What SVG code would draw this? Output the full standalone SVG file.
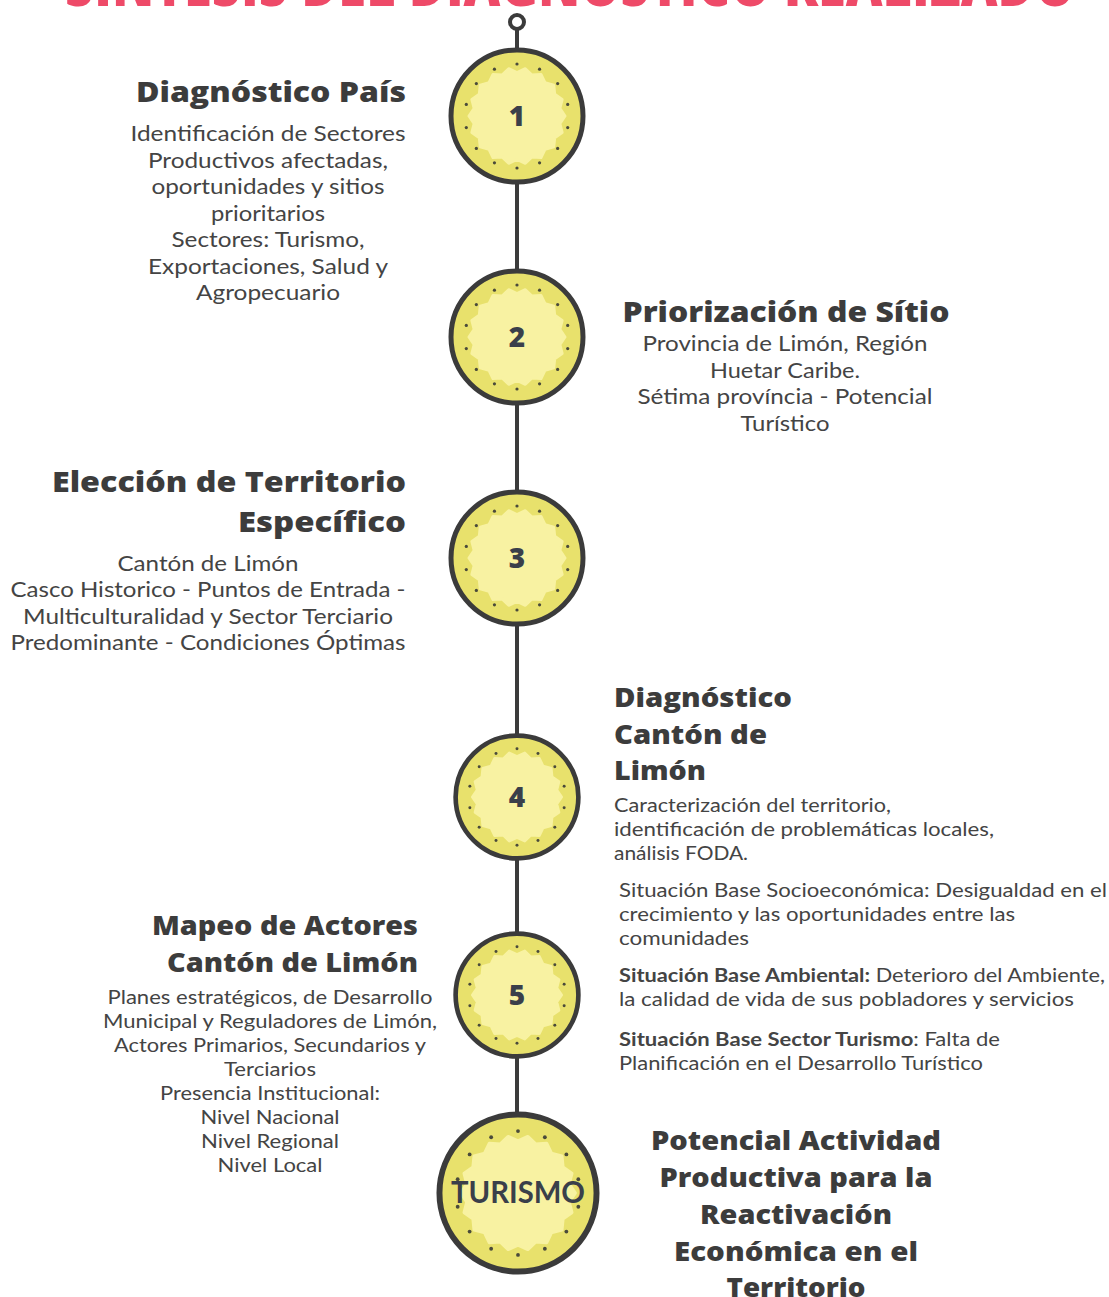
<svg xmlns="http://www.w3.org/2000/svg" xmlns:xlink="http://www.w3.org/1999/xlink" width="1109" height="1297" viewBox="0 0 1109 1297">
<style>
.title{font-family:"Open Sans","Liberation Sans",sans-serif;font-weight:800;font-size:64px;fill:#EE4A68}
.h{font-family:"Open Sans","Lato","Liberation Sans",sans-serif;font-weight:800;font-size:29px;fill:#3c3c3c}
.h2{font-family:"Open Sans","Lato","Liberation Sans",sans-serif;font-weight:800;font-size:27px;fill:#3c3c3c}
.b{font-family:"Lato","Liberation Sans",sans-serif;font-size:21px;fill:#444}
.s{font-family:"Lato","Liberation Sans",sans-serif;font-size:19.5px;fill:#444}
.sb{font-weight:700}
.num{font-family:"Open Sans","Lato","Liberation Sans",sans-serif;font-weight:800;font-size:28px;fill:#3a3f4a}
.tur{font-family:"Lato","Liberation Sans",sans-serif;font-weight:700;font-size:31px;fill:#3a3f4a}
.line{stroke:#3b3b3b;stroke-width:4;fill:none}
</style>
<defs>
<g id="badge">
<circle r="66" fill="#E8E16C" stroke="#3b3b3b" stroke-width="5"/>
<polygon fill="#F8F2A2" stroke="#F8F2A2" stroke-width="3" stroke-linejoin="round" points="48,0 42.84,7.55 45.11,16.42 37.67,21.75 36.77,30.85 27.96,33.32 24,41.57 14.88,40.88 8.33,47.27 0,43.5 -8.33,47.27 -14.88,40.88 -24,41.57 -27.96,33.32 -36.77,30.85 -37.67,21.75 -45.11,16.42 -42.84,7.55 -48,0 -42.84,-7.55 -45.11,-16.42 -37.67,-21.75 -36.77,-30.85 -27.96,-33.32 -24,-41.57 -14.88,-40.88 -8.33,-47.27 0,-43.5 8.33,-47.27 14.88,-40.88 24,-41.57 27.96,-33.32 36.77,-30.85 37.67,-21.75 45.11,-16.42 42.84,-7.55"/>
<g fill="#4a4a3a">
<circle cx="0" cy="-52" r="1.6"/><circle cx="22.56" cy="-46.85" r="1.6"/><circle cx="40.65" cy="-32.42" r="1.6"/><circle cx="50.7" cy="-11.57" r="1.6"/><circle cx="50.7" cy="11.57" r="1.6"/><circle cx="40.65" cy="32.42" r="1.6"/><circle cx="22.56" cy="46.85" r="1.6"/><circle cx="0" cy="52" r="1.6"/><circle cx="-22.56" cy="46.85" r="1.6"/><circle cx="-40.65" cy="32.42" r="1.6"/><circle cx="-50.7" cy="11.57" r="1.6"/><circle cx="-50.7" cy="-11.57" r="1.6"/><circle cx="-40.65" cy="-32.42" r="1.6"/><circle cx="-22.56" cy="-46.85" r="1.6"/>
</g>
</g>
</defs>
<rect width="1109" height="1297" fill="#ffffff"/>
<text class="title" x="570" y="6" text-anchor="middle" textLength="1010" lengthAdjust="spacingAndGlyphs">SÍNTESIS DEL DIAGNÓSTICO REALIZADO</text>

<g id="connectors">
<circle class="line" cx="517" cy="22" r="7" stroke-width="3.5"/>
<line class="line" x1="517" y1="29" x2="517" y2="48"/>
<line class="line" x1="517" y1="184" x2="517" y2="270"/>
<line class="line" x1="517" y1="404" x2="517" y2="491"/>
<line class="line" x1="517" y1="625" x2="517" y2="735"/>
<line class="line" x1="517" y1="859" x2="517" y2="933"/>
<line class="line" x1="517" y1="1057" x2="517" y2="1113"/>
</g>

<g id="node1">
<use xlink:href="#badge" transform="translate(517,116)"/>
<text class="num" x="517" y="126" text-anchor="middle">1</text>
<text class="h" x="406" y="102" text-anchor="end" textLength="270" lengthAdjust="spacingAndGlyphs">Diagnóstico País</text>
<g class="b" text-anchor="middle">
<text x="268" y="141" textLength="275" lengthAdjust="spacingAndGlyphs">Identificación de Sectores</text>
<text x="268" y="168" textLength="240" lengthAdjust="spacingAndGlyphs">Productivos afectadas,</text>
<text x="268" y="194" textLength="233" lengthAdjust="spacingAndGlyphs">oportunidades y sitios</text>
<text x="268" y="221" textLength="114" lengthAdjust="spacingAndGlyphs">prioritarios</text>
<text x="268" y="247" textLength="193" lengthAdjust="spacingAndGlyphs">Sectores: Turismo,</text>
<text x="268" y="274" textLength="240" lengthAdjust="spacingAndGlyphs">Exportaciones, Salud y</text>
<text x="268" y="300" textLength="144" lengthAdjust="spacingAndGlyphs">Agropecuario</text>
</g>
</g>

<g id="node2">
<use xlink:href="#badge" transform="translate(517,337)"/>
<text class="num" x="517" y="347" text-anchor="middle">2</text>
<text class="h" x="786" y="322" text-anchor="middle" textLength="327" lengthAdjust="spacingAndGlyphs">Priorización de Sítio</text>
<g class="b" text-anchor="middle">
<text x="785" y="351" textLength="285" lengthAdjust="spacingAndGlyphs">Provincia de Limón, Región</text>
<text x="785" y="378" textLength="150" lengthAdjust="spacingAndGlyphs">Huetar Caribe.</text>
<text x="785" y="404" textLength="295" lengthAdjust="spacingAndGlyphs">Sétima província - Potencial</text>
<text x="785" y="431" textLength="89" lengthAdjust="spacingAndGlyphs">Turístico</text>
</g>
</g>

<g id="node3">
<use xlink:href="#badge" transform="translate(517,558)"/>
<text class="num" x="517" y="568" text-anchor="middle">3</text>
<text class="h" x="406" y="492" text-anchor="end" textLength="354" lengthAdjust="spacingAndGlyphs">Elección de Territorio</text>
<text class="h" x="406" y="532" text-anchor="end" textLength="168" lengthAdjust="spacingAndGlyphs">Específico</text>
<g class="b" text-anchor="middle">
<text x="208" y="571" textLength="181" lengthAdjust="spacingAndGlyphs">Cantón de Limón</text>
<text x="208" y="597" textLength="395" lengthAdjust="spacingAndGlyphs">Casco Historico - Puntos de Entrada -</text>
<text x="208" y="624" textLength="370" lengthAdjust="spacingAndGlyphs">Multiculturalidad y Sector Terciario</text>
<text x="208" y="650" textLength="395" lengthAdjust="spacingAndGlyphs">Predominante - Condiciones Óptimas</text>
</g>
</g>

<g id="node4">
<use xlink:href="#badge" transform="translate(517,797) scale(0.93)"/>
<text class="num" x="517" y="807" text-anchor="middle">4</text>
<text class="h2" x="614" y="707" textLength="178" lengthAdjust="spacingAndGlyphs">Diagnóstico</text>
<text class="h2" x="614" y="744" textLength="153" lengthAdjust="spacingAndGlyphs">Cantón de</text>
<text class="h2" x="614" y="780" textLength="92" lengthAdjust="spacingAndGlyphs">Limón</text>
<g class="s">
<text x="614" y="812" textLength="277" lengthAdjust="spacingAndGlyphs">Caracterización del territorio,</text>
<text x="614" y="836" textLength="380" lengthAdjust="spacingAndGlyphs">identificación de problemáticas locales,</text>
<text x="614" y="860" textLength="134" lengthAdjust="spacingAndGlyphs">análisis FODA.</text>
</g>
<g class="s">
<text x="619" y="897" textLength="488" lengthAdjust="spacingAndGlyphs">Situación Base Socioeconómica: Desigualdad en el</text>
<text x="619" y="921" textLength="396" lengthAdjust="spacingAndGlyphs">crecimiento y las oportunidades entre las</text>
<text x="619" y="945" textLength="130" lengthAdjust="spacingAndGlyphs">comunidades</text>
<text x="619" y="982" textLength="486" lengthAdjust="spacingAndGlyphs"><tspan class="sb">Situación Base Ambiental:</tspan> Deterioro del Ambiente,</text>
<text x="619" y="1006" textLength="455" lengthAdjust="spacingAndGlyphs">la calidad de vida de sus pobladores y servicios</text>
<text x="619" y="1046" textLength="381" lengthAdjust="spacingAndGlyphs"><tspan class="sb">Situación Base Sector Turismo</tspan>: Falta de</text>
<text x="619" y="1070" textLength="364" lengthAdjust="spacingAndGlyphs">Planificación en el Desarrollo Turístico</text>
</g>
</g>

<g id="node5">
<use xlink:href="#badge" transform="translate(517,995) scale(0.93)"/>
<text class="num" x="517" y="1005" text-anchor="middle">5</text>
<text class="h2" x="418" y="935" text-anchor="end" textLength="266" lengthAdjust="spacingAndGlyphs">Mapeo de Actores</text>
<text class="h2" x="418" y="972" text-anchor="end" textLength="251" lengthAdjust="spacingAndGlyphs">Cantón de Limón</text>
<g class="s" text-anchor="middle">
<text x="270" y="1004" textLength="325" lengthAdjust="spacingAndGlyphs">Planes estratégicos, de Desarrollo</text>
<text x="270" y="1028" textLength="334" lengthAdjust="spacingAndGlyphs">Municipal y Reguladores de Limón,</text>
<text x="270" y="1052" textLength="312" lengthAdjust="spacingAndGlyphs">Actores Primarios, Secundarios y</text>
<text x="270" y="1076" textLength="92" lengthAdjust="spacingAndGlyphs">Terciarios</text>
<text x="270" y="1100" textLength="220" lengthAdjust="spacingAndGlyphs">Presencia Institucional:</text>
<text x="270" y="1124" textLength="139" lengthAdjust="spacingAndGlyphs">Nivel Nacional</text>
<text x="270" y="1148" textLength="138" lengthAdjust="spacingAndGlyphs">Nivel Regional</text>
<text x="270" y="1172" textLength="105" lengthAdjust="spacingAndGlyphs">Nivel Local</text>
</g>
</g>

<g id="node6">
<use xlink:href="#badge" transform="translate(518,1193) scale(1.19)"/>
<text class="tur" x="518" y="1203" text-anchor="middle" textLength="134" lengthAdjust="spacingAndGlyphs">TURISMO</text>
<g class="h2" text-anchor="middle">
<text x="796" y="1150" textLength="290" lengthAdjust="spacingAndGlyphs">Potencial Actividad</text>
<text x="796" y="1187" textLength="273" lengthAdjust="spacingAndGlyphs">Productiva para la</text>
<text x="796" y="1224" textLength="192" lengthAdjust="spacingAndGlyphs">Reactivación</text>
<text x="796" y="1261" textLength="244" lengthAdjust="spacingAndGlyphs">Económica en el</text>
<text x="796" y="1297" textLength="139" lengthAdjust="spacingAndGlyphs">Territorio</text>
</g>
</g>
</svg>
